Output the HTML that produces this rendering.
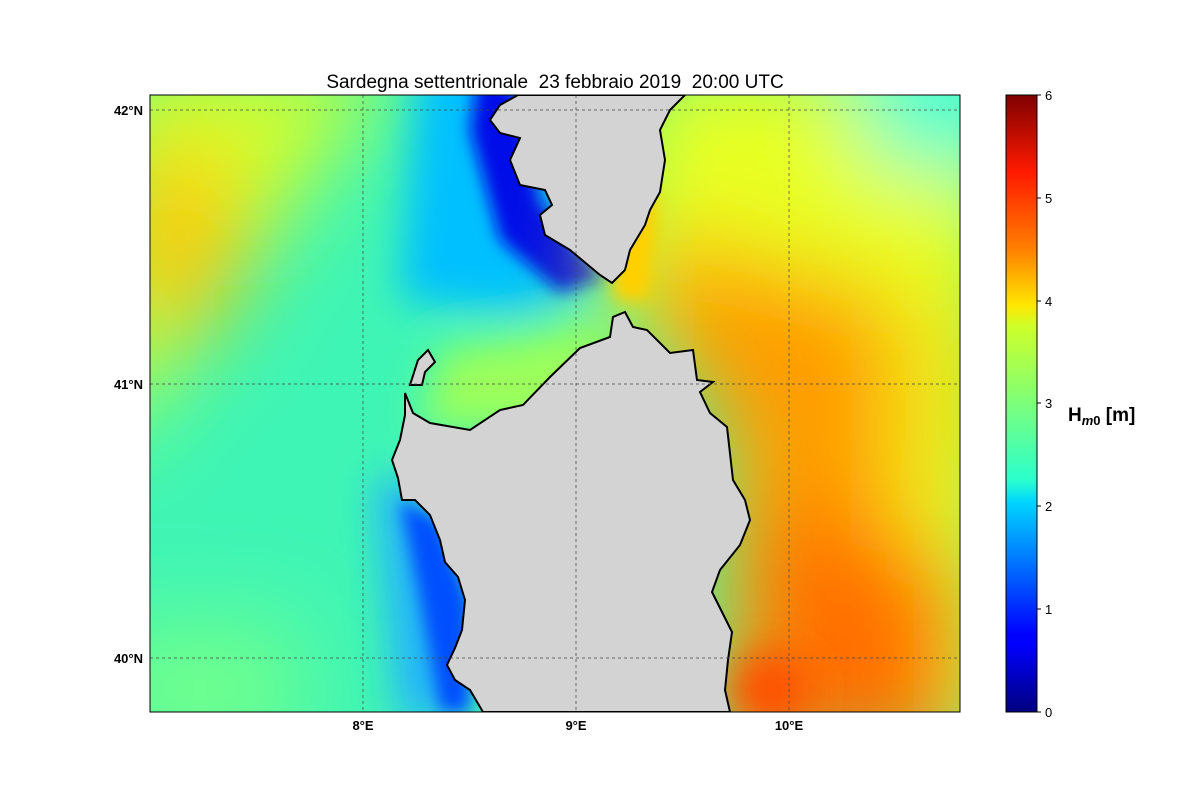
<!DOCTYPE html>
<html><head><meta charset="utf-8"><style>
body{margin:0;background:#fff;width:1200px;height:800px;overflow:hidden;font-family:"Liberation Sans",sans-serif}
</style></head><body>
<svg width="1200" height="800" xmlns="http://www.w3.org/2000/svg" font-family="Liberation Sans, sans-serif">
<defs>
<clipPath id="c"><rect x="150" y="95" width="810" height="617"/></clipPath>
<filter id="b1" x="-50%" y="-50%" width="200%" height="200%"><feGaussianBlur stdDeviation="45"/></filter>
<filter id="b2" x="-50%" y="-50%" width="200%" height="200%"><feGaussianBlur stdDeviation="20"/></filter>
<filter id="b3" x="-50%" y="-50%" width="200%" height="200%"><feGaussianBlur stdDeviation="8"/></filter>
<linearGradient id="jet" x1="0" y1="1" x2="0" y2="0">
<stop offset="0" stop-color="#00007f"/><stop offset="0.11" stop-color="#0000ff"/>
<stop offset="0.125" stop-color="#0000ff"/><stop offset="0.34" stop-color="#00d4ff"/>
<stop offset="0.375" stop-color="#29ffce"/><stop offset="0.5" stop-color="#7dff7a"/>
<stop offset="0.625" stop-color="#ceff29"/><stop offset="0.66" stop-color="#ffe600"/>
<stop offset="0.75" stop-color="#ff8000"/><stop offset="0.875" stop-color="#ff1a00"/>
<stop offset="1" stop-color="#7f0000"/></linearGradient>
</defs>
<g clip-path="url(#c)">
<rect x="150" y="95" width="810" height="617" fill="#3ff5b5"/>
<g filter="url(#b1)">
<polygon points="100,60 400,60 100,460" fill="#d4ff2b"/>
<ellipse cx="180" cy="240" rx="60" ry="100" fill="#ffc800"/>
<polygon points="100,620 300,620 300,760 100,760" fill="#70ff8c"/>
</g>
<g filter="url(#b2)">
<polygon points="420,60 510,60 610,290 520,310 400,300" fill="#00c0ff"/>
<polygon points="440,350 620,320 560,430 420,430" fill="#9cff5a"/>
<polygon points="375,480 420,480 460,720 400,720" fill="#20b0ff"/>
</g>
<g filter="url(#b3)">
<polygon points="480,60 520,95 540,200 605,278 560,292 500,240 470,130" fill="#0010e8"/>
<polygon points="400,500 440,520 470,600 470,712 440,712 420,600" fill="#0050ff"/>
</g>
<g filter="url(#b1)">
<polygon points="640,60 1000,60 1000,760 720,760 720,420 600,300" fill="#e8ff20"/>
<polygon points="640,230 900,300 900,760 730,760 730,450 650,320" fill="#ff9c00"/>
<polygon points="750,500 960,560 960,760 740,760" fill="#ff7000"/>
<ellipse cx="930" cy="110" rx="70" ry="60" fill="#20ffe0"/>
<ellipse cx="975" cy="400" rx="30" ry="120" fill="#f8e000"/>
</g>
<g filter="url(#b2)"><ellipse cx="770" cy="690" rx="40" ry="40" fill="#ff5000"/></g>
<g filter="url(#b3)">
<polygon points="610,230 660,190 650,300 615,300" fill="#ffd000"/></g>
<!-- Sardinia -->
<path d="M483,712 L470,690 455,680 447,665 455,648 462,630 465,600 458,577 445,562 440,540 430,515 415,500 402,500 398,478 392,460 400,440 405,415 405,393 413,413 430,423 470,430 500,410 523,405 550,377 580,348 610,337 613,317 625,312 633,327 647,330 670,353 693,350 697,380 713,382 700,392 710,413 727,427 733,480 745,500 750,520 740,545 720,570 712,592 722,612 732,632 728,660 725,690 730,712 Z" fill="#d3d3d3" stroke="#000" stroke-width="2"/>
<path d="M410,385 L418,360 428,350 435,362 425,372 422,385 Z" fill="#d3d3d3" stroke="#000" stroke-width="2"/>
<!-- Corsica -->
<path d="M518,95 L500,105 490,120 500,133 520,138 510,160 520,185 545,190 552,205 540,215 545,235 570,250 600,275 612,283 625,270 630,250 645,225 650,210 660,192 665,160 660,130 670,110 685,95 Z" fill="#d3d3d3" stroke="#000" stroke-width="2"/>
<g stroke="#444" stroke-width="0.7" stroke-dasharray="3,3" fill="none">
<line x1="363" y1="95" x2="363" y2="712"/><line x1="576" y1="95" x2="576" y2="712"/><line x1="789" y1="95" x2="789" y2="712"/>
<line x1="150" y1="110" x2="960" y2="110"/><line x1="150" y1="384" x2="960" y2="384"/><line x1="150" y1="658" x2="960" y2="658"/>
</g>
</g>
<rect x="150" y="95" width="810" height="617" fill="none" stroke="#000" stroke-width="1"/>
<text x="555" y="88" font-size="19" text-anchor="middle" xml:space="preserve" style="white-space:pre">Sardegna settentrionale  23 febbraio 2019  20:00 UTC</text>
<g font-size="13" font-weight="bold">
<text x="143" y="115" text-anchor="end">42°N</text>
<text x="143" y="389" text-anchor="end">41°N</text>
<text x="143" y="663" text-anchor="end">40°N</text>
<text x="363" y="730" text-anchor="middle">8°E</text>
<text x="576" y="730" text-anchor="middle">9°E</text>
<text x="789" y="730" text-anchor="middle">10°E</text>
</g>
<rect x="1006" y="95" width="31" height="617" fill="url(#jet)" stroke="#000" stroke-width="1"/>
<g font-size="13">
<g stroke="#000"><line x1="1037" y1="712" x2="1041" y2="712"/><line x1="1037" y1="609" x2="1041" y2="609"/><line x1="1037" y1="506" x2="1041" y2="506"/><line x1="1037" y1="403" x2="1041" y2="403"/><line x1="1037" y1="301" x2="1041" y2="301"/><line x1="1037" y1="198" x2="1041" y2="198"/><line x1="1037" y1="95" x2="1041" y2="95"/></g>
<text x="1045" y="717">0</text><text x="1045" y="614">1</text><text x="1045" y="511">2</text><text x="1045" y="408">3</text><text x="1045" y="306">4</text><text x="1045" y="203">5</text><text x="1045" y="100">6</text>
</g>
<text x="1068" y="421" font-size="19" font-weight="bold">H<tspan font-size="13" font-style="italic" dy="4">m</tspan><tspan font-size="13" dy="0">0</tspan><tspan dy="-4"> [m]</tspan></text>
</svg>
</body></html>
